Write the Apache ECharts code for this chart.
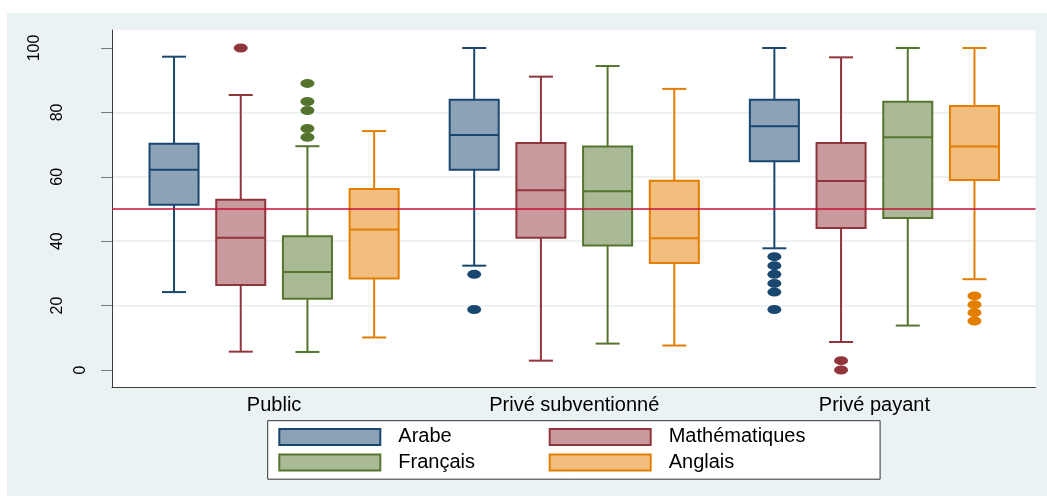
<!DOCTYPE html>
<html><head><meta charset="utf-8">
<script src="https://cdn.jsdelivr.net/npm/echarts@6/dist/echarts.min.js"></script>
<style>
html,body{margin:0;padding:0;background:#ffffff;}
#chart{position:absolute;left:7px;top:13px;width:1040px;height:483px;background:#eaf2f3;}
</style></head><body><div id="chart"></div>
<script>
// ---------- data ----------
const categories = ['Public', 'Privé subventionné', 'Privé payant'];
const subjects = ['Arabe', 'Mathématiques', 'Français', 'Anglais'];
const yTicks = [0, 20, 40, 60, 80, 100];
// per category: [lower whisker, Q1, median, Q3, upper whisker]
const arabe = [[24.2, 51.3, 62.2, 70.3, 97.3], [32.4, 62.2, 73.0, 83.9, 100], [37.8, 64.8, 75.7, 83.9, 100]];
const mathematiques = [[5.7, 26.4, 41.1, 52.9, 85.4], [2.9, 41.1, 55.8, 70.5, 91.1], [8.7, 44.1, 58.7, 70.5, 97.1]];
const francais = [[5.6, 22.1, 30.4, 41.5, 69.5], [8.2, 38.7, 55.5, 69.4, 94.4], [13.8, 47.2, 72.3, 83.3, 100]];
const anglais = [[10.1, 28.4, 43.6, 56.2, 74.2], [7.6, 33.2, 40.9, 58.8, 87.3], [28.2, 59.0, 69.4, 82.0, 100]];
// outside values per category
const arabeOut = [[], [29.7, 18.8], [35.2, 32.4, 29.7, 26.9, 24.2, 18.8]];
const mathematiquesOut = [[100], [], [2.9, 0]];
const francaisOut = [[89.0, 83.4, 80.6, 75.0, 72.3], [], []];
const anglaisOut = [[], [], [23.0, 20.3, 17.8, 15.2]];
const referenceValue = 50;

// ---------- style ----------
const strokes = ['#1a476f', '#90353b', '#55752f', '#e37e00'];
const fills = ['#8ca3b7', '#c89a9d', '#aaba97', '#f1be7f'];
const FONT = '"Liberation Sans", Arial, sans-serif';
const GROUP_STEP = 4.5;
const BOX_W = 0.735;
const CAP_W = 0.36;

const boxData = [arabe, mathematiques, francais, anglais];
const outData = [arabeOut, mathematiquesOut, francaisOut, anglaisOut];
const pos = (g, j) => g * GROUP_STEP + j;

function makeRender(j) {
  return function (params, api) {
    const x = api.value(0);
    const lo = api.coord([x, api.value(1)]);
    const q1 = api.coord([x, api.value(2)]);
    const md = api.coord([x, api.value(3)]);
    const q3 = api.coord([x, api.value(4)]);
    const hi = api.coord([x, api.value(5)]);
    const hw = api.size([BOX_W, 0])[0] / 2;
    const cw = api.size([CAP_W, 0])[0] / 2;
    const cx = lo[0];
    const ls = { stroke: strokes[j], lineWidth: 2, fill: null };
    return {
      type: 'group',
      children: [
        { type: 'line', shape: { x1: cx, y1: hi[1], x2: cx, y2: q3[1] }, style: ls },
        { type: 'line', shape: { x1: cx, y1: q1[1], x2: cx, y2: lo[1] }, style: ls },
        { type: 'line', shape: { x1: cx - cw, y1: hi[1], x2: cx + cw, y2: hi[1] }, style: ls },
        { type: 'line', shape: { x1: cx - cw, y1: lo[1], x2: cx + cw, y2: lo[1] }, style: ls },
        { type: 'rect', shape: { x: cx - hw, y: q3[1], width: 2 * hw, height: q1[1] - q3[1] },
          style: { fill: fills[j], stroke: strokes[j], lineWidth: 2 } },
        { type: 'line', shape: { x1: cx - hw, y1: md[1], x2: cx + hw, y2: md[1] }, style: ls }
      ]
    };
  };
}

const series = [{
  type: 'line', name: 'ref', data: [], z: 1, silent: true,
  markLine: {
    silent: true, symbol: 'none', label: { show: false }, animation: false,
    lineStyle: { color: '#c8103a', width: 1.5, type: 'solid' },
    data: [{ yAxis: referenceValue }]
  }
}];
subjects.forEach((s, j) => {
  series.push({
    type: 'custom', name: s, z: 3,
    renderItem: makeRender(j),
    encode: { x: 0, y: [1, 2, 3, 4, 5] },
    itemStyle: { color: fills[j], borderColor: strokes[j] },
    data: boxData[j].map((v, g) => [pos(g, j)].concat(v))
  });
});
subjects.forEach((s, j) => {
  const pts = [];
  outData[j].forEach((arr, g) => arr.forEach(v => pts.push([pos(g, j), v])));
  series.push({
    type: 'scatter', name: s + ' (extrêmes)', z: 4,
    symbol: 'circle', symbolSize: [14, 9],
    itemStyle: { color: strokes[j], opacity: 1 },
    data: pts
  });
});

const chart = echarts.init(document.getElementById('chart'), null, { renderer: 'canvas' });
chart.setOption({
  animation: false,
  backgroundColor: '#eaf2f3',
  textStyle: { fontFamily: FONT },
  grid: { left: 105, top: 17, right: 11.5, bottom: 109, show: true, backgroundColor: '#ffffff', borderWidth: 0 },
  legend: {
    data: subjects.map((s, j) => ({ name: s, itemStyle: { color: fills[j], borderColor: strokes[j], borderWidth: 2 } })),
    icon: 'rect', selectedMode: false,
    left: 260.7, top: 407.7, width: 545,
    orient: 'horizontal', itemGap: 0,
    itemWidth: 101, itemHeight: 16,
    padding: [3.5, 61, 4, 10.6],
    backgroundColor: '#ffffff', borderColor: '#333333', borderWidth: 1,
    textStyle: { fontSize: 20, fontFamily: FONT, color: '#000', lineHeight: 25.5, width: 150.4, padding: [0, 0, 0, 13] }
  },
  xAxis: {
    type: 'value', min: -0.93, max: 12.915,
    axisLine: { show: true, onZero: false, lineStyle: { color: '#3c3c3c', width: 1 } },
    axisTick: { show: false },
    splitLine: { show: false },
    axisLabel: {
      customValues: categories.map((c, g) => g * GROUP_STEP + 1.5),
      formatter: v => categories[Math.round((v - 1.5) / GROUP_STEP)],
      fontSize: 20, color: '#000', margin: 8, fontFamily: FONT
    }
  },
  yAxis: {
    type: 'value', min: -5.28, max: 105.59,
    axisLine: { show: true, onZero: false, lineStyle: { color: '#3c3c3c', width: 1 } },
    axisTick: { show: true, length: 11, customValues: yTicks, lineStyle: { color: '#777777' } },
    axisLabel: {
      customValues: yTicks, rotate: 90, margin: 19.5, fontSize: 16, lineHeight: 23, color: '#000', fontFamily: FONT,
      formatter: v => String(v) + '\n'.repeat(String(v).length - 1)
    },
    splitLine: { show: true, showMinLine: false, showMaxLine: false, lineStyle: { color: '#e6eef0', width: 1.5 } }
  },
  series: series
});
</script></body></html>
